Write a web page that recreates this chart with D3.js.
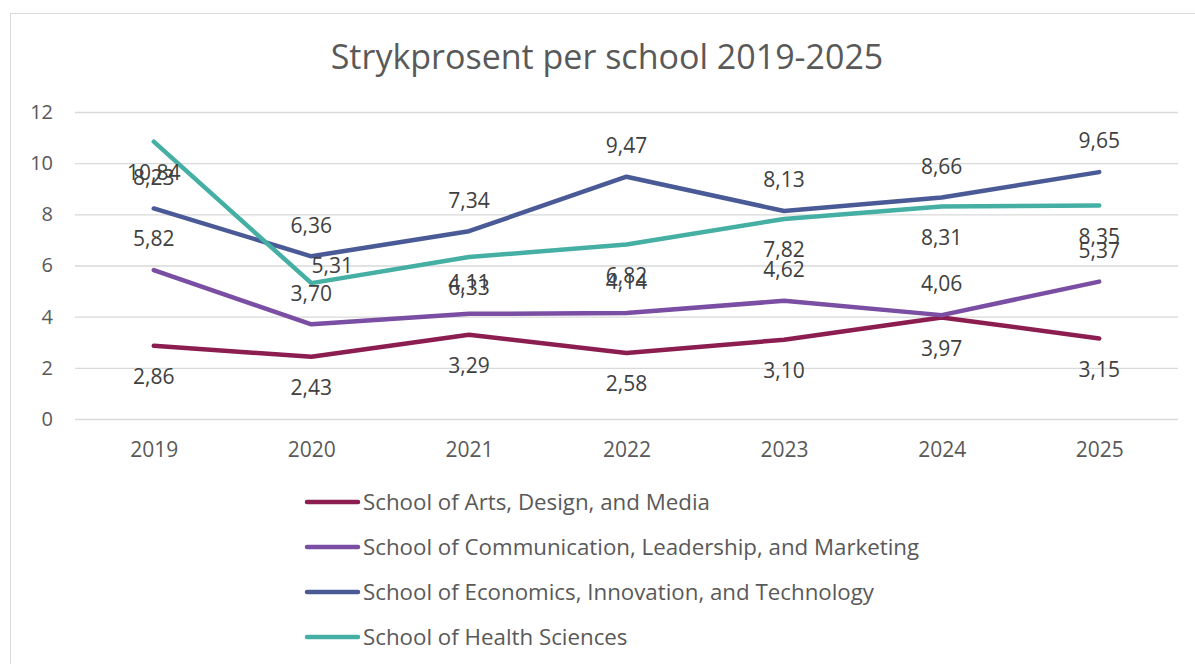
<!DOCTYPE html>
<html>
<head>
<meta charset="utf-8">
<script src="https://cdn.jsdelivr.net/npm/d3@7"></script>
<style>
  body { margin: 0; background: #fff; }
  svg { display: block; font-family: "Open Sans", sans-serif; }
</style>
</head>
<body>
<svg id="chart" width="1195" height="664"></svg>
<script>
const years = ["2019", "2020", "2021", "2022", "2023", "2024", "2025"];
const seriesNames = [
  "School of Arts, Design, and Media",
  "School of Communication, Leadership, and Marketing",
  "School of Economics, Innovation, and Technology",
  "School of Health Sciences"
];
const artsValues = [2.86, 2.43, 3.29, 2.58, 3.10, 3.97, 3.15];
const communicationValues = [5.82, 3.70, 4.11, 4.14, 4.62, 4.06, 5.37];
const economicsValues = [8.23, 6.36, 7.34, 9.47, 8.13, 8.66, 9.65];
const healthValues = [10.84, 5.31, 6.33, 6.82, 7.82, 8.31, 8.35];
const yTicks = [0, 2, 4, 6, 8, 10, 12];

const colors = ["#8c1d50", "#7a4ea3", "#4a5a97", "#45afa3"];
// label placement per series, like Excel: below / above
const labelPos = ["below", "above", "above", "below"];
// one label was dragged by hand in the original (health, 2020)
const labelNudge = { "3-1": { dx: 21, dy: -49 } };

const series = [artsValues, communicationValues, economicsValues, healthValues]
  .map((vals, i) => ({ name: seriesNames[i], values: vals, color: colors[i], pos: labelPos[i] }));

const svg = d3.select("#chart");
const textColor = "#595959";

// chart frame
svg.append("rect")
  .attr("x", 10.5).attr("y", 13.5)
  .attr("width", 1200).attr("height", 700)
  .attr("fill", "#fff")
  .attr("stroke", "#d9d9d9");

svg.append("text")
  .attr("x", 607).attr("y", 69)
  .attr("text-anchor", "middle")
  .attr("font-size", 34)
  .attr("fill", textColor)
  .text("Strykprosent per school 2019-2025");

const plotLeft = 75, plotRight = 1178, plotTop = 112, plotBottom = 419;

const x = d3.scalePoint()
  .domain(years)
  .range([plotLeft, plotRight])
  .padding(0.5);

const y = d3.scaleLinear()
  .domain([0, 12])
  .range([plotBottom, plotTop]);

// gridlines
svg.append("g")
  .selectAll("line")
  .data(yTicks)
  .enter().append("line")
  .attr("x1", plotLeft).attr("x2", plotRight)
  .attr("y1", d => y(d) + 0.5).attr("y2", d => y(d) + 0.5)
  .attr("stroke", "#d9d9d9")
  .attr("stroke-width", 1.3);

// y axis labels
const yAxis = svg.append("g")
  .attr("transform", `translate(${plotLeft - 22},0)`)
  .call(d3.axisLeft(y).tickValues(yTicks).tickSize(0).tickPadding(0));
yAxis.select(".domain").remove();
yAxis.selectAll("text")
  .attr("font-size", 20)
  .attr("font-family", "'Open Sans', sans-serif")
  .attr("fill", textColor);

// x axis labels
const xAxis = svg.append("g")
  .attr("transform", `translate(0,${plotBottom + 23})`)
  .call(d3.axisBottom(x).tickSize(0).tickPadding(0));
xAxis.select(".domain").remove();
xAxis.selectAll("text")
  .attr("font-size", 21)
  .attr("font-family", "'Open Sans', sans-serif")
  .attr("fill", textColor);

const line = d3.line()
  .x((d, i) => x(years[i]))
  .y(d => y(d));

series.forEach(s => {
  svg.append("path")
    .datum(s.values)
    .attr("d", line)
    .attr("fill", "none")
    .attr("stroke", s.color)
    .attr("stroke-width", 4.5)
    .attr("stroke-linecap", "round")
    .attr("stroke-linejoin", "round");
});

// data labels
const fmt = v => d3.format(".2f")(v).replace(".", ",");
series.forEach((s, si) => {
  svg.append("g")
    .selectAll("text")
    .data(s.values)
    .enter().append("text")
    .attr("x", (d, i) => x(years[i]) + ((labelNudge[si + "-" + i] || {}).dx || 0))
    .attr("y", (d, i) => y(d) + (s.pos === "above" ? -31 : 31) + ((labelNudge[si + "-" + i] || {}).dy || 0))
    .attr("dy", "0.35em")
    .attr("text-anchor", "middle")
    .attr("font-size", 21)
    .attr("fill", "#404040")
    .text(d => fmt(d));
});

// legend
const legend = svg.append("g")
  .attr("transform", "translate(305, 502)");

series.forEach((s, i) => {
  const row = legend.append("g")
    .attr("transform", `translate(0, ${i * 45})`);
  row.append("line")
    .attr("x1", 2).attr("x2", 53)
    .attr("y1", 0).attr("y2", 0)
    .attr("stroke", s.color)
    .attr("stroke-width", 4.5)
    .attr("stroke-linecap", "round");
  row.append("text")
    .attr("x", 58)
    .attr("y", 0)
    .attr("dy", "0.35em")
    .attr("font-size", 22.3)
    .attr("fill", textColor)
    .text(s.name);
});
</script>
</body>
</html>
